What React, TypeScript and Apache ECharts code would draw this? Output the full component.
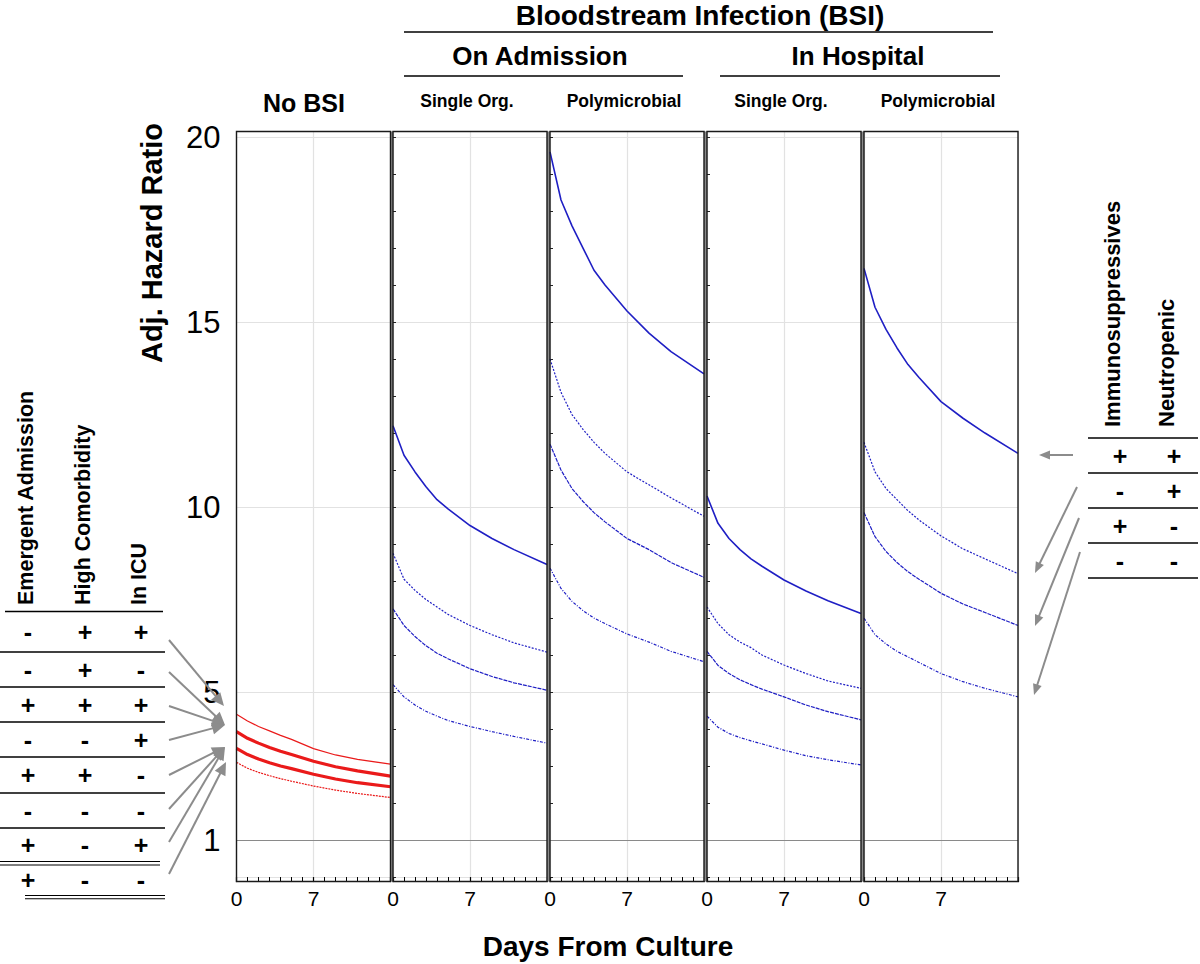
import React, { useEffect, useRef } from "react";
import * as echarts from "echarts";

// ---------- data ----------
const DAYS = [0, 1, 2, 3, 4, 5, 7, 9, 11, 14];
const X_TICK_LABELS = ["0", "7"];
const Y_TICK_LABELS = [5, 10, 15, 20];
const REF_LINE = 1;

// No BSI (red)
const noBsi1 = [4.4, 4.22, 4.07, 3.95, 3.83, 3.72, 3.47, 3.3, 3.18, 3.05];
const noBsi2 = [3.93, 3.75, 3.62, 3.5, 3.4, 3.31, 3.13, 2.98, 2.87, 2.73];
const noBsi3 = [3.48, 3.31, 3.19, 3.09, 3.0, 2.93, 2.78, 2.65, 2.55, 2.44];
const noBsi4 = [3.1, 2.94, 2.83, 2.74, 2.66, 2.59, 2.46, 2.35, 2.26, 2.15];

// On admission, single organism
const admSingle1 = [12.2, 11.4, 10.95, 10.55, 10.2, 9.95, 9.5, 9.15, 8.85, 8.45];
const admSingle2 = [8.75, 8.05, 7.75, 7.5, 7.3, 7.1, 6.8, 6.55, 6.33, 6.08];
const admSingle3 = [7.25, 6.8, 6.5, 6.25, 6.05, 5.9, 5.63, 5.42, 5.25, 5.05];
const admSingle4 = [5.2, 4.87, 4.65, 4.48, 4.35, 4.23, 4.07, 3.93, 3.8, 3.62];

// On admission, polymicrobial
const admPoly1 = [19.6, 18.3, 17.6, 17.0, 16.4, 16.0, 15.3, 14.7, 14.2, 13.6];
const admPoly2 = [14.0, 13.1, 12.5, 12.1, 11.75, 11.45, 10.95, 10.6, 10.25, 9.75];
const admPoly3 = [11.7, 11.0, 10.5, 10.15, 9.85, 9.6, 9.15, 8.85, 8.5, 8.1];
const admPoly4 = [8.35, 7.8, 7.45, 7.2, 7.0, 6.85, 6.57, 6.35, 6.1, 5.82];

// In hospital, single organism
const hospSingle1 = [10.3, 9.56, 9.15, 8.85, 8.6, 8.4, 8.03, 7.73, 7.47, 7.12];
const hospSingle2 = [7.3, 6.85, 6.55, 6.35, 6.2, 6.0, 5.73, 5.5, 5.3, 5.1];
const hospSingle3 = [6.1, 5.72, 5.5, 5.33, 5.2, 5.08, 4.87, 4.65, 4.47, 4.25];
const hospSingle4 = [4.35, 4.05, 3.88, 3.77, 3.68, 3.6, 3.43, 3.28, 3.17, 3.03];

// In hospital, polymicrobial
const hospPoly1 = [16.45, 15.4, 14.8, 14.3, 13.85, 13.5, 12.85, 12.4, 12.0, 11.45];
const hospPoly2 = [11.75, 10.95, 10.5, 10.2, 9.9, 9.65, 9.22, 8.87, 8.6, 8.2];
const hospPoly3 = [9.85, 9.2, 8.8, 8.5, 8.25, 8.05, 7.67, 7.38, 7.15, 6.8];
const hospPoly4 = [7.0, 6.55, 6.3, 6.1, 5.95, 5.8, 5.5, 5.28, 5.1, 4.87];

const PANEL_TITLES = ["No BSI", "Single Org.", "Polymicrobial", "Single Org.", "Polymicrobial"];
const LEFT_COLS = ["Emergent Admission", "High Comorbidity", "In ICU"];
const LEFT_ROWS = [
  ["-", "+", "+"],
  ["-", "+", "-"],
  ["+", "+", "+"],
  ["-", "-", "+"],
  ["+", "+", "-"],
  ["-", "-", "-"],
  ["+", "-", "+"],
  ["+", "-", "-"],
];
const RIGHT_COLS = ["Immunosuppressives", "Neutropenic"];
const RIGHT_ROWS = [
  ["+", "+"],
  ["-", "+"],
  ["+", "-"],
  ["-", "-"],
];

// ---------- layout / style ----------
const FONT = '"Liberation Sans", Arial, Helvetica, sans-serif';
const RED = "#ea1a1a";
const BLUE = "#1f1fc4";
const ARROW = "#8c8c8c";
const GRID_TOP = 131.5;
const GRID_H = 750;
const GRID_W = 154;
const GRID_LEFTS = [236.5, 393, 550, 707, 864];

const RED_STYLES = [
  { w: 1.2, t: "solid" },
  { w: 3.2, t: "solid" },
  { w: 3.2, t: "solid" },
  { w: 1.2, t: [2, 1] },
];
const BLUE_STYLES = [
  { w: 1.6, t: "solid" },
  { w: 1.2, t: [2, 1.5] },
  { w: 1.2, t: [4, 1] },
  { w: 1.2, t: [3, 1.5, 1, 1.5] },
];

const PANELS = [
  { lines: [noBsi1, noBsi2, noBsi3, noBsi4], color: RED, styles: RED_STYLES },
  { lines: [admSingle1, admSingle2, admSingle3, admSingle4], color: BLUE, styles: BLUE_STYLES },
  { lines: [admPoly1, admPoly2, admPoly3, admPoly4], color: BLUE, styles: BLUE_STYLES },
  { lines: [hospSingle1, hospSingle2, hospSingle3, hospSingle4], color: BLUE, styles: BLUE_STYLES },
  { lines: [hospPoly1, hospPoly2, hospPoly3, hospPoly4], color: BLUE, styles: BLUE_STYLES },
];

function txt(text: string, x: number, y: number, size: number, o: any = {}) {
  return {
    type: "text",
    x,
    y,
    rotation: o.rot || 0,
    z: 10,
    silent: true,
    style: {
      text,
      fontSize: size,
      fontWeight: o.weight || "bold",
      fontFamily: FONT,
      fill: "#000",
      align: o.align || "center",
      verticalAlign: "middle",
    },
  };
}

function hline(x1: number, x2: number, y: number, w = 1.3, color = "#000") {
  return {
    type: "line",
    z: 10,
    silent: true,
    shape: { x1, y1: y, x2, y2: y },
    style: { stroke: color, lineWidth: w },
  };
}

function arrow(x1: number, y1: number, x2: number, y2: number, L = 12, W = 5.5) {
  const a = Math.atan2(y2 - y1, x2 - x1);
  const c = Math.cos(a);
  const s = Math.sin(a);
  const bx = x2 - L * c;
  const by = y2 - L * s;
  return [
    {
      type: "line",
      z: 10,
      silent: true,
      shape: { x1, y1, x2: bx + c, y2: by + s },
      style: { stroke: ARROW, lineWidth: 2 },
    },
    {
      type: "polygon",
      z: 10,
      silent: true,
      shape: {
        points: [
          [x2, y2],
          [bx - W * s, by + W * c],
          [bx + W * s, by - W * c],
        ],
      },
      style: { fill: ARROW },
    },
  ];
}

function buildOption() {
  const grid = GRID_LEFTS.map((left) => ({
    left,
    top: GRID_TOP,
    width: GRID_W,
    height: GRID_H,
    show: true,
    borderWidth: 0,
    backgroundColor: "#fff",
  }));

  const xAxis = GRID_LEFTS.map((_, i) => ({
    gridIndex: i,
    type: "value",
    min: 0,
    max: 14,
    interval: 7,
    axisLine: { show: false },
    axisTick: { show: true, length: 5, lineStyle: { color: "#000", width: 1.2 } },
    minorTick: { show: true, splitNumber: 7, length: 4, lineStyle: { color: "#000", width: 1 } },
    axisLabel: {
      fontSize: 21,
      color: "#000",
      fontFamily: FONT,
      margin: 6,
      formatter: (v: number) => (X_TICK_LABELS.includes(String(v)) ? String(v) : ""),
    },
    splitLine: { show: true, lineStyle: { color: "#e2e2e2", width: 1.2 } },
  }));

  const yAxis = GRID_LEFTS.map((_, i) => ({
    gridIndex: i,
    type: "value",
    min: -0.12,
    max: 20.15,
    splitNumber: 4,
    position: i >= 1 && i <= 3 ? "right" : "left",
    axisLine: { show: false },
    axisTick: { show: i >= 1 && i <= 3, length: 3, lineStyle: { color: "#222" } },
    minorTick: { show: i >= 1 && i <= 3, splitNumber: 5, length: 3, lineStyle: { color: "#222" } },
    axisLabel: {
      show: i === 0,
      fontSize: 31,
      color: "#000",
      fontFamily: FONT,
      margin: 16,
      formatter: (v: number) => (Y_TICK_LABELS.includes(v) ? String(v) : ""),
    },
    splitLine: { show: true, lineStyle: { color: "#e2e2e2", width: 1.2 } },
  }));

  const series: any[] = [];
  PANELS.forEach((p, i) => {
    p.lines.forEach((arr, j) => {
      const st = p.styles[j];
      const s: any = {
        type: "line",
        xAxisIndex: i,
        yAxisIndex: i,
        data: DAYS.map((d, k) => [d, arr[k]]),
        showSymbol: false,
        symbol: "none",
        smooth: false,
        z: 5 - (j === 0 ? 0 : 1),
        lineStyle: { color: p.color, width: st.w, type: st.t },
      };
      if (j === 0) {
        s.markLine = {
          silent: true,
          symbol: "none",
          animation: false,
          lineStyle: { color: "#8a8a8a", width: 1.2, type: "solid" },
          label: {
            show: i === 0,
            position: "start",
            formatter: String(REF_LINE),
            fontSize: 31,
            color: "#000",
            fontFamily: FONT,
            distance: 16,
          },
          data: [{ yAxis: REF_LINE }],
        };
      }
      series.push(s);
    });
  });

  const g: any[] = [];
  // gaps between panels
  for (let i = 0; i < GRID_LEFTS.length - 1; i++) {
    const x = GRID_LEFTS[i] + GRID_W;
    g.push({
      type: "rect",
      z: 1,
      silent: true,
      shape: { x, y: GRID_TOP, width: GRID_LEFTS[i + 1] - x, height: GRID_H },
      style: { fill: "#8a8a8a" },
    });
  }
  // panel frames on top
  GRID_LEFTS.forEach((left) => {
    g.push({
      type: "rect",
      z: 20,
      silent: true,
      shape: { x: left, y: GRID_TOP, width: GRID_W, height: GRID_H },
      style: { fill: null, stroke: "#1a1a1a", lineWidth: 1.4 },
    });
  });
  // header
  g.push(txt("Bloodstream Infection (BSI)", 700, 15, 28));
  g.push(hline(404, 993, 32));
  g.push(txt("On Admission", 540, 56, 26));
  g.push(hline(404, 683, 76));
  g.push(txt("In Hospital", 858, 56, 26));
  g.push(hline(720, 1000, 76));
  g.push(txt(PANEL_TITLES[0], 304, 103, 25));
  PANEL_TITLES.slice(1).forEach((t, k) => {
    g.push(txt(t, GRID_LEFTS[k + 1] + GRID_W / 2 - 3, 101, 17.5));
  });
  // axis titles
  g.push(txt("Adj. Hazard Ratio", 152, 243, 29, { rot: Math.PI / 2 }));
  g.push(txt("Days From Culture", 608, 946, 28));

  // left table
  const lcx = [28, 85, 141];
  LEFT_COLS.forEach((c, k) => {
    g.push(txt(c, lcx[k] - 2, 605, 21.5, { rot: Math.PI / 2, align: "left" }));
  });
  g.push(hline(5, 163, 611.5));
  const lLines = [652, 687, 722, 757, 793, 828];
  lLines.forEach((y) => g.push(hline(0, 165, y)));
  g.push(hline(0, 160, 861.5, 1.1));
  g.push(hline(0, 160, 865, 1.1));
  g.push(hline(25, 165, 895.5, 1.1));
  g.push(hline(25, 165, 898.8, 1.1));
  const lRowY = [632, 669.5, 704.5, 739.5, 775, 810.5, 845, 880];
  LEFT_ROWS.forEach((r, ri) => {
    r.forEach((s, ci) => g.push(txt(s, lcx[ci], lRowY[ri], 25)));
  });
  const lArrows = [
    [169, 640, 224, 706],
    [169, 672, 225, 725],
    [169, 706, 225, 725],
    [169, 740, 225, 725],
    [169, 775, 225, 747],
    [169, 809, 225, 747],
    [169, 842, 225, 747],
    [169, 874, 226, 762],
  ];
  lArrows.forEach((a) => g.push(...arrow(a[0], a[1], a[2], a[3], 13, 6)));

  // right table
  const rcx = [1120, 1174];
  RIGHT_COLS.forEach((c, k) => {
    g.push(txt(c, rcx[k] - 8, 427, 22, { rot: Math.PI / 2, align: "left" }));
  });
  [438, 473, 508, 543, 578].forEach((y) => g.push(hline(1088, 1198, y)));
  const rRowY = [455.5, 490.5, 525.5, 560.5];
  RIGHT_ROWS.forEach((r, ri) => {
    r.forEach((s, ci) => g.push(txt(s, rcx[ci], rRowY[ri], 25)));
  });
  const rArrows = [
    [1073, 455, 1039, 455],
    [1077, 487, 1035, 573],
    [1079, 518, 1035, 626],
    [1080, 552, 1034, 695],
  ];
  rArrows.forEach((a) => g.push(...arrow(a[0], a[1], a[2], a[3], 11, 4.5)));

  return {
    animation: false,
    backgroundColor: "#fff",
    textStyle: { fontFamily: FONT },
    grid,
    xAxis,
    yAxis,
    series,
    graphic: { elements: g },
  };
}

export default function App() {
  const ref = useRef<HTMLDivElement>(null);
  useEffect(() => {
    if (!ref.current) return;
    const chart = echarts.init(ref.current, undefined, { renderer: "svg" });
    chart.setOption(buildOption() as any);
    return () => chart.dispose();
  }, []);
  return (
    <div
      ref={ref}
      style={{ position: "absolute", left: 0, top: 0, width: 1200, height: 964, background: "#fff" }}
    />
  );
}
